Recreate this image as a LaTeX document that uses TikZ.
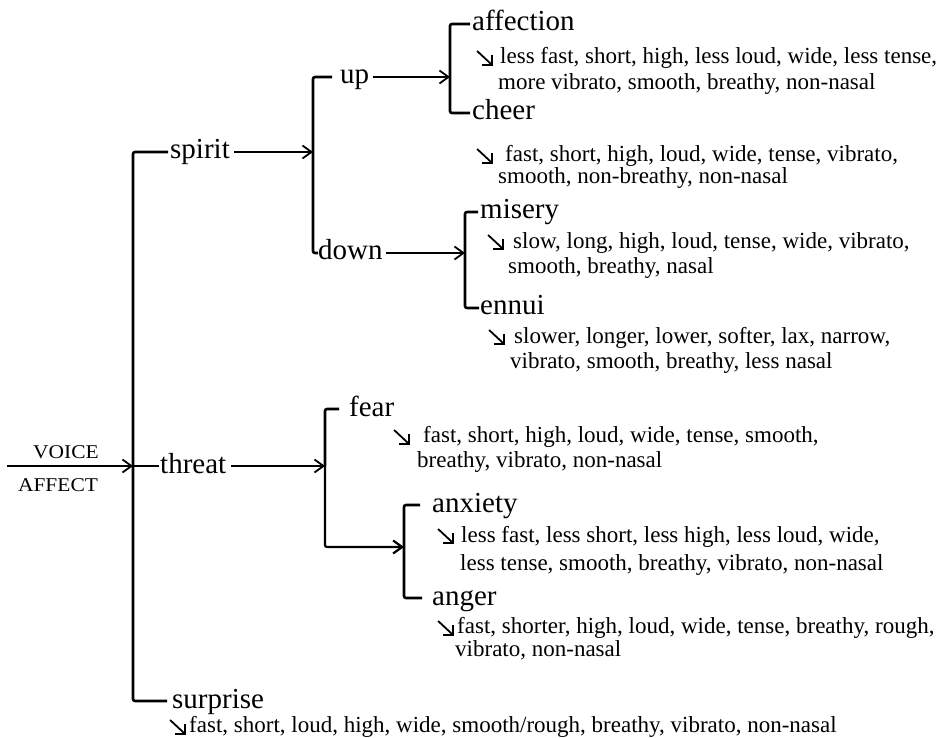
\documentclass[tikz,border=0pt]{standalone}
\usepackage{fontspec}
\usepackage{graphicx}
\setmainfont{Liberation Serif}
\usetikzlibrary{arrows.meta}

% south-east pointing arrow used in front of each list of cues
\newcommand\sedir{\tikz[baseline=0pt,x=1pt,y=1pt,line width=1.8pt,line cap=butt,line join=miter]{%
  \draw (0,14)--(15,0);\draw (5,0)--(15,0)--(15,10);}}

\tikzset{
  lbl/.style={inner sep=0pt,anchor=west,font=\fontsize{29}{29}\selectfont,text height=20pt,text depth=6pt},
  cue/.style={inner sep=0pt,anchor=west,font=\fontsize{23}{25}\selectfont,text height=16pt,text depth=5pt},
  glyph/.style={inner sep=0pt,anchor=west},
  head/.style={inner sep=0pt,font=\fontsize{19.5}{19.5}\selectfont},
  brk/.style={line width=2.6pt,rounded corners=2pt},
  arr/.style={line width=1.8pt,-{Straight Barb[length=9pt,width=13pt]}},
  stub/.style={line width=1.8pt}
}

\begin{document}
\begin{tikzpicture}[x=1pt,y=-1pt]
\fill[white] (0,0) rectangle (938,738);
\useasboundingbox (0,0) rectangle (938,738);

% root
\node[head] (voice)  at (66,452) {\scalebox{1.1}[1]{VOICE}};
\node[head] (affect) at (58,485) {\scalebox{1.1}[1]{AFFECT}};
\coordinate (in) at (7,466);
\coordinate (j0) at (133,466);

% first level
\node[lbl] (spirit)   at (170,152) {spirit};
\node[lbl] (threat)   at (160,466) {threat};
\node[lbl] (surprise) at (172,701) {surprise};
\node[glyph] (surG) at (169,727) {\sedir};
\node[cue] (sur1) at (189,727) {fast, short, loud, high, wide, smooth/rough, breathy, vibrato, non-nasal};

% spirit branch
\coordinate (j1) at (313,152);
\node[lbl] (up)   at (340,77) {up};
\node[lbl] (down) at (318,253) {down};

\coordinate (j2) at (450,77);
\node[lbl] (affection) at (472,24) {affection};
\node[glyph] (affG) at (476,58) {\sedir};
\node[cue] (aff1) at (500,58) {less fast, short, high, less loud, wide, less tense,};
\node[cue] (aff2) at (498,84) {more vibrato, smooth, breathy, non-nasal};
\node[lbl] (cheer) at (472,113) {cheer};
\node[glyph] (cheG) at (476,156) {\sedir};
\node[cue] (che1) at (505,156) {fast, short, high, loud, wide, tense, vibrato,};
\node[cue] (che2) at (498,178) {smooth, non-breathy, non-nasal};

\coordinate (j3) at (465,253);
\node[lbl] (misery) at (480,212) {misery};
\node[glyph] (misG) at (487,242) {\sedir};
\node[cue] (mis1) at (513,243) {slow, long, high, loud, tense, wide, vibrato,};
\node[cue] (mis2) at (508,268) {smooth, breathy, nasal};
\node[lbl] (ennui) at (480,308) {ennui};
\node[glyph] (ennG) at (488,337) {\sedir};
\node[cue] (enn1) at (514,338) {slower, longer, lower, softer, lax, narrow,};
\node[cue] (enn2) at (510,363) {vibrato, smooth, breathy, less nasal};

% threat branch
\coordinate (j4) at (325,466);
\node[lbl] (fear) at (349,409) {fear};
\node[glyph] (feaG) at (393,437) {\sedir};
\node[cue] (fea1) at (423,437) {fast, short, high, loud, wide, tense, smooth,};
\node[cue] (fea2) at (417,462) {breathy, vibrato, non-nasal};

\coordinate (j5) at (404,547);
\node[lbl] (anxiety) at (432,505) {anxiety};
\node[glyph] (anxG) at (437,536) {\sedir};
\node[cue] (anx1) at (461,537) {less fast, less short, less high, less loud, wide,};
\node[cue] (anx2) at (460,565) {less tense, smooth, breathy, vibrato, non-nasal};
\node[lbl] (anger) at (432,598) {anger};
\node[glyph] (angG) at (437,628) {\sedir};
\node[cue] (ang1) at (457,628) {fast, shorter, high, loud, wide, tense, breathy, rough,};
\node[cue] (ang2) at (455,651) {vibrato, non-nasal};

% connectors
\draw[arr] (in) -- (j0);
\draw[brk] ([xshift=-2pt]spirit.west) -| (j0) |- ([xshift=-5pt]surprise.west);
\draw[stub] (j0) -- ([xshift=-1pt]threat.west);

\draw[arr] ([xshift=4pt]spirit.east) -- (j1);
\draw[brk] ([xshift=-8pt]up.west) -| (j1) |- (down.west);
\draw[arr] ([xshift=4pt]up.east) -- (j2);
\draw[brk] ([xshift=-2pt]affection.west) -| (j2) |- ([xshift=-2pt]cheer.west);
\draw[arr] ([xshift=3pt]down.east) -- (j3);
\draw[brk] ([xshift=-2pt]misery.west) -| (j3) |- ([xshift=-1pt]ennui.west);

\draw[arr] ([xshift=5pt]threat.east) -- (j4);
\draw[brk] ([xshift=-10pt]fear.west) -| (j4);
\draw[brk,arrows={-Straight Barb[length=9pt,width=13pt]},line width=2.2pt] (j4) |- (j5);
\draw[brk] ([xshift=-12pt]anxiety.west) -| (j5) |- ([xshift=-10pt]anger.west);
\end{tikzpicture}
\end{document}
